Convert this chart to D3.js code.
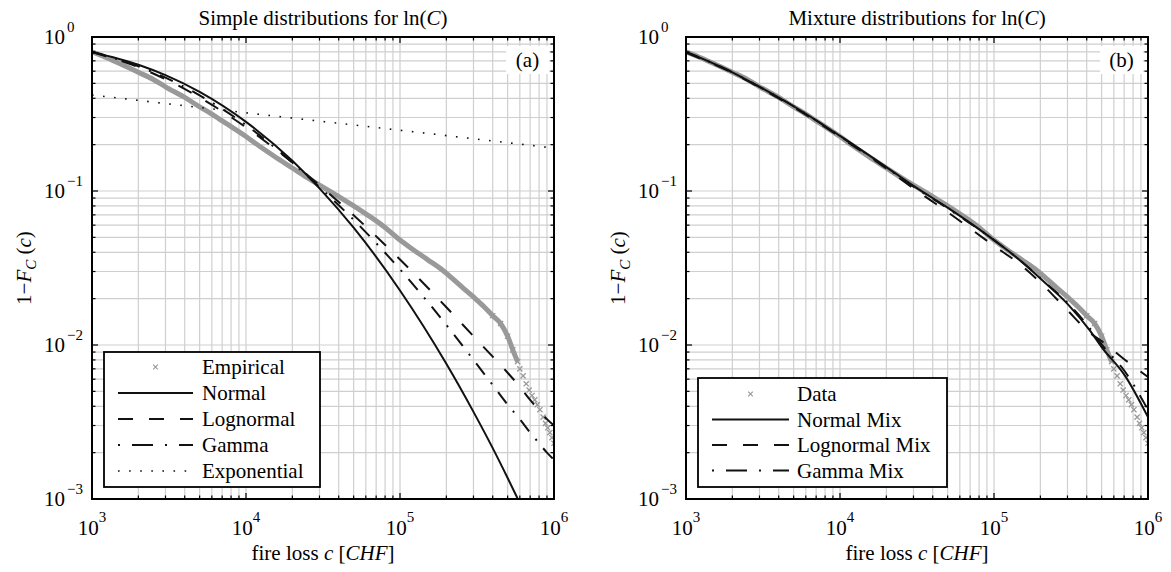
<!DOCTYPE html>
<html><head><meta charset="utf-8">
<script src="https://cdn.jsdelivr.net/npm/d3@7"></script>
<style>
body{margin:0;background:#fff}
text{font-family:"Liberation Serif","Times New Roman",serif;fill:#000}
</style>
</head><body>
<svg id="c" width="1171" height="572"></svg>
<script>
// ---------- data ----------
const xDomain = [1e3, 1e6];
const yDomain = [1e-3, 1];
const xTickExps = [3, 4, 5, 6];
const yTickExps = [0, -1, -2, -3];

// empirical survival 1-F(c), dense band
const empC = [1000,1200,1500,2000,2500,3000,4000,5000,6000,7000,8000,10000,12000,15000,20000,25000,30000,40000,50000,60000,70000,80000,100000,120000,150000,190000,250000,300000,350000,400000,450000,500000,540000,580000];
const empP = [0.80,0.745,0.675,0.59,0.53,0.475,0.405,0.352,0.316,0.285,0.262,0.226,0.198,0.170,0.141,0.122,0.109,0.092,0.080,0.071,0.064,0.058,0.048,0.042,0.036,0.0305,0.0240,0.0205,0.0178,0.0155,0.0138,0.0114,0.0093,0.0078];
// empirical tail, individual markers
const tailC = [600000,630000,660000,690000,720000,750000,780000,810000,850000,880000,910000,940000,970000,1000000];
const tailP = [0.0070,0.0063,0.0056,0.0051,0.0047,0.0044,0.0041,0.0038,0.0034,0.0031,0.0029,0.0027,0.0025,0.0023];

// panel (a) fits
const fitC = [1000,2000,3000,5000,10000,20000,30000,50000,100000,200000,300000,400000,500000,600000,700000,800000,900000,1000000];
const normalP = [0.800,0.660,0.565,0.440,0.281,0.157,0.104,0.0578,0.0226,0.00755,0.00368,0.00214,0.00137,0.00094,0.00068,0.0005,0.0004,0.0003];
const lognormalP = [0.800,0.637,0.532,0.405,0.259,0.153,0.109,0.0696,0.0359,0.0176,0.0114,0.0084,0.0066,0.00536,0.0044,0.00377,0.0033,0.0030];
const gammaP = [0.800,0.645,0.545,0.418,0.268,0.153,0.106,0.065,0.031,0.0135,0.0080,0.0055,0.0041,0.0033,0.0027,0.0023,0.0020,0.0018];
const expoC = [1000,10000,100000,1000000];
const expoP = [0.42,0.322,0.248,0.19];

// panel (b) mixture fits
const mixC = [1000,2000,3000,5000,10000,20000,30000,50000,100000,150000,200000,300000,420000,500000,710000,1000000];
const normalMixP = [0.80,0.59,0.475,0.355,0.228,0.143,0.108,0.078,0.048,0.035,0.027,0.0185,0.0124,0.0097,0.0063,0.0034];
const lognormalMixP = [0.79,0.585,0.47,0.35,0.224,0.140,0.104,0.073,0.044,0.033,0.0255,0.0168,0.0120,0.0106,0.0080,0.0062];
const gammaMixP = [0.80,0.59,0.475,0.355,0.227,0.142,0.107,0.077,0.048,0.035,0.0272,0.0188,0.0128,0.0101,0.0067,0.0038];

const legendA = ["Empirical","Normal","Lognormal","Gamma","Exponential"];
const legendB = ["Data","Normal Mix","Lognormal Mix","Gamma Mix"];

// ---------- layout ----------
const svg = d3.select("#c");
const TOP = 37, SIZE = 462;
const GRAY = "#999999";
const styles = {
  solid: null,
  dashed: "15,16",
  dashdot: "14,10,2,10",
  dotted: "1.6,9.5"
};

function zipPts(cs, ps){ return cs.map((c,i)=>[c, ps[i]]); }

function drawPanel(left, id, titleMain, tag, curves, legendItems, legend){
  const g = svg.append("g");
  const x = d3.scaleLog().domain(xDomain).range([left, left+SIZE]);
  const y = d3.scaleLog().domain(yDomain).range([TOP+SIZE, TOP]);
  const xt = x.ticks(), yt = y.ticks();
  const isMajor = v => Math.abs(Math.log10(v) - Math.round(Math.log10(v))) < 1e-9;

  // grid
  g.append("g").selectAll("line").data(xt).join("line")
    .attr("x1", d=>x(d)).attr("x2", d=>x(d)).attr("y1", TOP).attr("y2", TOP+SIZE)
    .attr("stroke", "#cfcfcf").attr("stroke-width", 1.2);
  g.append("g").selectAll("line").data(yt).join("line")
    .attr("y1", d=>y(d)).attr("y2", d=>y(d)).attr("x1", left).attr("x2", left+SIZE)
    .attr("stroke", "#cfcfcf").attr("stroke-width", 1.2);

  // clip
  svg.append("clipPath").attr("id", "clip"+id).append("rect")
    .attr("x", left).attr("y", TOP).attr("width", SIZE).attr("height", SIZE);
  const pg = g.append("g").attr("clip-path", `url(#clip${id})`);
  const line = d3.line().x(d=>x(d[0])).y(d=>y(d[1])).curve(d3.curveMonotoneX);

  // empirical band
  pg.append("path").datum(zipPts(empC, empP)).attr("d", line)
    .attr("fill","none").attr("stroke", GRAY).attr("stroke-width", 5).attr("stroke-linejoin","round");
  const mk = "M-2.6,-2.6L2.6,2.6M-2.6,2.6L2.6,-2.6";
  pg.append("g").selectAll("path").data(zipPts(empC.slice(-5), empP.slice(-5)).concat(zipPts(tailC, tailP))).join("path")
    .attr("transform", d=>`translate(${x(d[0])},${y(d[1])})`).attr("d", mk)
    .attr("stroke", GRAY).attr("stroke-width", 1.3).attr("fill","none");

  curves.forEach(cv=>{
    pg.append("path").datum(zipPts(cv.c, cv.p)).attr("d", line)
      .attr("fill","none").attr("stroke","#111").attr("stroke-width", cv.style==="dotted"?1.6:2)
      .attr("stroke-dasharray", styles[cv.style]);
  });

  // axes box
  g.append("rect").attr("x", left).attr("y", TOP).attr("width", SIZE).attr("height", SIZE)
    .attr("fill","none").attr("stroke","#000").attr("stroke-width", 2);

  // ticks (inward, all four sides)
  const tk = g.append("g").attr("stroke","#000").attr("stroke-width",1.2);
  xt.forEach(v=>{
    const L = isMajor(v) ? 6 : 3.5, xx = x(v);
    tk.append("line").attr("x1",xx).attr("x2",xx).attr("y1",TOP+SIZE).attr("y2",TOP+SIZE-L);
    tk.append("line").attr("x1",xx).attr("x2",xx).attr("y1",TOP).attr("y2",TOP+L);
  });
  yt.forEach(v=>{
    const L = isMajor(v) ? 6 : 3.5, yy = y(v);
    tk.append("line").attr("y1",yy).attr("y2",yy).attr("x1",left).attr("x2",left+L);
    tk.append("line").attr("y1",yy).attr("y2",yy).attr("x1",left+SIZE).attr("x2",left+SIZE-L);
  });

  // x tick labels
  xTickExps.forEach(e=>{
    const t = g.append("text").attr("x", x(Math.pow(10,e))).attr("y", TOP+SIZE+36)
      .attr("text-anchor","middle").style("font-size","21px");
    t.append("tspan").text("10");
    t.append("tspan").attr("dy", -13).style("font-size","15px").text(String(e));
  });
  // y tick labels
  yTickExps.forEach(e=>{
    const yy = y(Math.pow(10,e));
    g.append("text").attr("x", left-27).attr("y", yy+7).attr("text-anchor","end")
      .style("font-size","21px").text("10");
    g.append("text").attr("x", left-25).attr("y", yy-5).attr("text-anchor","start")
      .style("font-size","15px").text(e<0 ? "\u2212"+(-e) : String(e));
  });

  // title
  const tt = g.append("text").attr("x", left+SIZE/2).attr("y", 25).attr("text-anchor","middle").style("font-size","21px");
  tt.append("tspan").text(titleMain + "ln(");
  tt.append("tspan").style("font-style","italic").text("C");
  tt.append("tspan").text(")");

  // x label
  const xl = g.append("text").attr("x", left+SIZE/2).attr("y", 559.5).attr("text-anchor","middle").style("font-size","21px");
  xl.append("tspan").text("fire loss ");
  xl.append("tspan").style("font-style","italic").text("c");
  xl.append("tspan").text(" [");
  xl.append("tspan").style("font-style","italic").text("CHF");
  xl.append("tspan").text("]");

  // y label
  const yl = g.append("text").attr("transform", `translate(${left-61},${TOP+SIZE/2}) rotate(-90)`)
    .attr("text-anchor","middle").style("font-size","21px");
  yl.append("tspan").text("1\u2212");
  yl.append("tspan").style("font-style","italic").text("F");
  yl.append("tspan").attr("dy", 5).style("font-size","15px").style("font-style","italic").text("C");
  yl.append("tspan").attr("dy", -5).text(" (");
  yl.append("tspan").style("font-style","italic").text("c");
  yl.append("tspan").text(")");

  // tag box
  g.append("rect").attr("x", left+SIZE-48).attr("y", TOP+9).attr("width", 43).attr("height", 28).attr("fill","#fff");
  g.append("text").attr("x", left+SIZE-26.5).attr("y", TOP+30).attr("text-anchor","middle").style("font-size","21px").text(tag);

  // legend
  const lg = g.append("g");
  lg.append("rect").attr("x", left+12).attr("y", legend.top).attr("width", legend.w).attr("height", TOP+SIZE-12-legend.top)
    .attr("fill","#fff").attr("stroke","#000").attr("stroke-width",1.8);
  legendItems.forEach((it,i)=>{
    const ry = legend.rowY + i*legend.step;
    const x1 = left+26, x2 = left+legend.sampleEnd;
    if(it.style==="marker"){
      lg.append("path").attr("transform",`translate(${(x1+x2)/2},${ry})`).attr("d","M-2.3,-2.3L2.3,2.3M-2.3,2.3L2.3,-2.3")
        .attr("stroke",GRAY).attr("stroke-width",1.2);
    } else {
      lg.append("line").attr("x1",x1).attr("x2",x2).attr("y1",ry).attr("y2",ry)
        .attr("stroke","#111").attr("stroke-width", it.style==="dotted"?1.6:2)
        .attr("stroke-dasharray", it.legendDash || styles[it.style]);
    }
    lg.append("text").attr("x", left+legend.textX).attr("y", ry+7).style("font-size","21px").text(it.name);
  });
}

drawPanel(92, "a", "Simple distributions for ", "(a)",
  [
    {c: fitC, p: normalP, style:"solid"},
    {c: fitC, p: lognormalP, style:"dashed"},
    {c: fitC, p: gammaP, style:"dashdot"},
    {c: expoC, p: expoP, style:"dotted"}
  ],
  [
    {name: legendA[0], style:"marker"},
    {name: legendA[1], style:"solid"},
    {name: legendA[2], style:"dashed"},
    {name: legendA[3], style:"dashdot", legendDash:"2,12,21,12"},
    {name: legendA[4], style:"dotted"}
  ],
  {top: 352, w: 216, rowY: 367, step: 26, sampleEnd: 101, textX: 110}
);

drawPanel(686, "b", "Mixture distributions for ", "(b)",
  [
    {c: mixC, p: normalMixP, style:"solid"},
    {c: mixC, p: lognormalMixP, style:"dashed"},
    {c: mixC, p: gammaMixP, style:"dashdot"}
  ],
  [
    {name: legendB[0], style:"marker"},
    {name: legendB[1], style:"solid"},
    {name: legendB[2], style:"dashed"},
    {name: legendB[3], style:"dashdot", legendDash:"2,12,21,12"}
  ],
  {top: 378, w: 249, rowY: 394, step: 25.5, sampleEnd: 103, textX: 111}
);
</script>
</body></html>
